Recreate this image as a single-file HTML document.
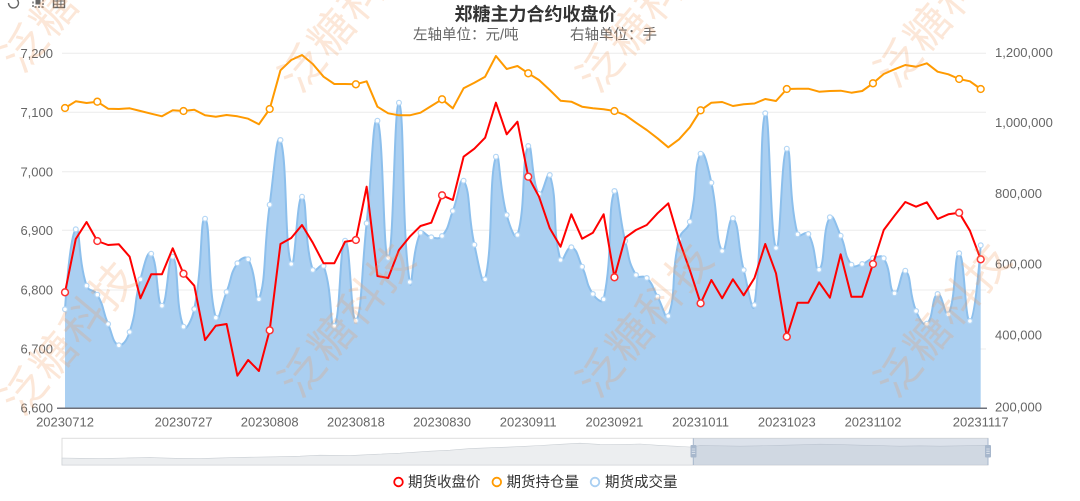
<!DOCTYPE html>
<html><head><meta charset="utf-8">
<style>
html,body{margin:0;padding:0;background:#fff;}
svg{display:block;font-family:"Liberation Sans","Noto Sans CJK SC",sans-serif;}
</style></head>
<body>
<svg id="c" width="1080" height="501" viewBox="0 0 1080 501" xmlns="http://www.w3.org/2000/svg">
<rect x="0" y="0" width="1080" height="501" fill="#fff"/>
<!-- toolbox icons -->
<g fill="none" stroke="#666" stroke-width="1.4">
  <path d="M8.5,3 A5,5 0 1 0 13,-2"/>
  <path d="M33,-2 L33,7 L43,7 L43,-2" stroke-dasharray="2,1.5"/>
  <rect x="35.5" y="0" width="5" height="4.5" fill="#666" stroke="none"/>
  <rect x="53.5" y="-2" width="11" height="9.5"/>
  <path d="M53.5,1 H64.5 M53.5,4.2 H64.5 M57.2,-2 V7.5 M60.9,-2 V7.5" stroke-width="1"/>
</g>
<!-- title -->
<text x="535.5" y="20.5" text-anchor="middle" font-size="18" font-weight="bold" fill="#333">郑糖主力合约收盘价</text>
<text x="413" y="39.5" font-size="14.5" fill="#666">左轴单位：元/吨</text>
<text x="570" y="39.5" font-size="14.5" fill="#666">右轴单位：手</text>
<!-- grid lines -->
<g stroke="#ececec" stroke-width="1">
  <line x1="62" y1="53.3" x2="986" y2="53.3"/>
  <line x1="62" y1="112.3" x2="986" y2="112.3"/>
  <line x1="62" y1="171.8" x2="986" y2="171.8"/>
  <line x1="62" y1="230.3" x2="986" y2="230.3"/>
  <line x1="62" y1="290" x2="986" y2="290"/>
  <line x1="62" y1="349" x2="986" y2="349"/>
</g>
<!-- left axis labels -->
<g font-size="13" fill="#666" text-anchor="end">
  <text x="53" y="57.8">7,200</text>
  <text x="53" y="116.8">7,100</text>
  <text x="53" y="176.3">7,000</text>
  <text x="53" y="234.8">6,900</text>
  <text x="53" y="294.5">6,800</text>
  <text x="53" y="353.5">6,700</text>
  <text x="53" y="412.5">6,600</text>
</g>
<!-- right axis labels -->
<g font-size="13" fill="#666" text-anchor="start">
  <text x="995" y="57.2">1,200,000</text>
  <text x="995" y="127.2">1,000,000</text>
  <text x="995" y="197.8">800,000</text>
  <text x="995" y="268.5">600,000</text>
  <text x="995" y="339.5">400,000</text>
  <text x="995" y="411.5">200,000</text>
</g>
<g id="series"></g>
<!-- x axis -->
<line x1="57" y1="408.3" x2="987" y2="408.3" stroke="#6e7079" stroke-width="1.5"/>
<g id="xlabels" font-size="13" fill="#666" text-anchor="middle">
  <text x="65" y="426.5">20230712</text>
  <text x="183.5" y="426.5">20230727</text>
  <text x="269.7" y="426.5">20230808</text>
  <text x="355.9" y="426.5">20230818</text>
  <text x="442" y="426.5">20230830</text>
  <text x="528.2" y="426.5">20230911</text>
  <text x="614.4" y="426.5">20230921</text>
  <text x="700.6" y="426.5">20231011</text>
  <text x="786.8" y="426.5">20231023</text>
  <text x="873" y="426.5">20231102</text>
  <text x="980.7" y="426.5">20231117</text>
</g>
<!-- dataZoom -->
<g>
  <rect x="62" y="438.3" width="926" height="26.7" fill="#fff" stroke="#dddddd" stroke-width="1"/>
  <path id="shadow" fill="#eceef0" stroke="#c9ced3" stroke-width="0.6"/>
  <rect x="693.3" y="438.3" width="294.7" height="26.7" fill="rgba(167,183,204,0.4)"/>
  <line x1="693.3" y1="438.3" x2="693.3" y2="465" stroke="#a7b7cc" stroke-width="1"/>
  <line x1="988" y1="438.3" x2="988" y2="465" stroke="#a7b7cc" stroke-width="1"/>
  <rect x="690.5" y="445" width="6" height="12.5" fill="#a7b7cc" rx="1"/>
  <rect x="985" y="445" width="6" height="12.5" fill="#a7b7cc" rx="1"/>
  <path d="M691.8,449 h3.4 M691.8,451.2 h3.4 M691.8,453.4 h3.4 M986.3,449 h3.4 M986.3,451.2 h3.4 M986.3,453.4 h3.4" stroke="#e6ebf2" stroke-width="0.8"/>
</g>
<!-- legend -->
<g font-size="14.5" fill="#333">
  <circle cx="398.5" cy="482" r="4.3" fill="#fff" stroke="#ff0000" stroke-width="1.8"/>
  <text x="408" y="487">期货收盘价</text>
  <circle cx="496.8" cy="482" r="4.3" fill="#fff" stroke="#ff9a00" stroke-width="1.8"/>
  <text x="506.5" y="487">期货持仓量</text>
  <circle cx="595" cy="482" r="4.3" fill="#fff" stroke="#a9cff2" stroke-width="1.8"/>
  <text x="605" y="487">期货成交量</text>
</g>
<!-- watermark -->
<g font-size="44" fill="#f39a5a" fill-opacity="0.24" letter-spacing="2" font-family="'Liberation Sans','Noto Sans CJK SC',sans-serif">
  <text transform="translate(22,418) rotate(-50)">泛糖科技</text>
  <text transform="translate(300,400) rotate(-50)">泛糖科技</text>
  <text transform="translate(598,400) rotate(-50)">泛糖科技</text>
  <text transform="translate(896,400) rotate(-50)">泛糖科技</text>
  <text transform="translate(22,75) rotate(-50)">泛糖科技</text>
  <text transform="translate(300,95) rotate(-50)">泛糖科技</text>
  <text transform="translate(598,95) rotate(-50)">泛糖科技</text>
  <text transform="translate(896,90) rotate(-50)">泛糖科技</text>
</g>
</svg>
<script>
(function(){
var NS="http://www.w3.org/2000/svg";
var X0=65, DX=(980.7-65)/85;
var orange=[108,101.3,103,101.7,108.7,109,108.3,111,113.7,116.3,110.3,111,109.7,115.3,116.7,115,116.3,118.7,124.3,109,70.3,60,55,64,76.7,84,84,84.3,81.3,106.7,113.3,115.3,115.3,112.7,106,99.3,108.3,88.3,82.7,76.7,56,69,66,73.3,80,90,100.7,101.7,106.7,108.3,109.3,111,115,122.7,130,138.3,147.3,139.3,127.3,110.3,102.7,102,106,104.3,103.5,99,101,89,88.7,88.7,91.7,91,90.7,92.7,91,83.3,74,69.3,65,66.7,63.3,71.7,74.3,79,81.3,89];
var red=[292.3,239,222,241,245,244.3,256.7,298.3,274.3,274.3,248.3,273.7,285.7,340,325.7,324,375.7,360,371,330.3,244,238,225,242.7,263.3,263.3,241.7,240,186.7,276,278,250,236.7,226,222.7,195.3,200,156.7,148.7,137.7,102.7,134.3,121.7,176.7,196.7,228.3,246.7,214.3,238.7,232.7,214.3,277.3,237.7,230,225,213.3,203.3,240,270,303.3,280,298.3,279.3,295.3,278,244,273.3,336.7,302.7,302.7,282.3,297.7,254.3,296.7,296.7,264,230,215.7,202,206.7,202.3,219,214.3,212.7,230.7,259.3];
var blue=[309.3,229.3,285.7,294.7,324,345.3,332,279.3,253.7,305.7,256.7,326.7,309,218.7,317.7,292,263.3,259.3,299.3,204.7,140,264,196.7,270,266,326,240.7,320.7,223.3,120.7,258,102.7,282,232.7,237.3,236,211,180.7,244.7,279.3,156.7,215,235,146,194,175,260,247.3,266.7,294,299.3,191,241,275,278,296.7,316,239.3,221.7,153.7,182.7,251,218.3,270,305,113.3,248,148.7,234.3,234,269.7,217.3,235.7,264.7,264,258.3,258.3,293.3,270.7,311,323.7,294,314.3,253.3,321,245.3];
function pts(a){return a.map(function(y,i){return [X0+i*DX,y];});}
function f(v){return Math.round(v*100)/100;}
function smoothPath(p,smooth){
  var n=p.length,minX=1e9,minY=1e9,maxX=-1e9,maxY=-1e9;
  p.forEach(function(q){minX=Math.min(minX,q[0]);maxX=Math.max(maxX,q[0]);minY=Math.min(minY,q[1]);maxY=Math.max(maxY,q[1]);});
  function cl(c){return [Math.min(maxX,Math.max(minX,c[0])),Math.min(maxY,Math.max(minY,c[1]))];}
  var cin=[],cout=[];
  for(var i=0;i<n;i++){
    var q=p[i];
    if(i===0||i===n-1){cin.push(q);cout.push(q);continue;}
    var pr=p[i-1],nx=p[i+1];
    var vx=nx[0]-pr[0],vy=nx[1]-pr[1];
    var d0=Math.hypot(q[0]-pr[0],q[1]-pr[1]),d1=Math.hypot(q[0]-nx[0],q[1]-nx[1]);
    var r=d1/(d0+d1);
    cin.push(cl([q[0]-vx*smooth*(1-r),q[1]-vy*smooth*(1-r)]));
    cout.push(cl([q[0]+vx*smooth*r,q[1]+vy*smooth*r]));
  }
  var d="M"+f(p[0][0])+","+f(p[0][1]);
  for(var j=0;j<n-1;j++){
    var a=cout[j],b=cin[j+1],e=p[j+1];
    d+="C"+f(a[0])+","+f(a[1])+" "+f(b[0])+","+f(b[1])+" "+f(e[0])+","+f(e[1]);
  }
  return d;
}
function linePath(p){return "M"+p.map(function(q){return f(q[0])+","+f(q[1]);}).join("L");}
var g=document.getElementById("series");
function el(tag,attrs){var e=document.createElementNS(NS,tag);for(var k in attrs)e.setAttribute(k,attrs[k]);g.appendChild(e);return e;}
var bp=pts(blue);
var sp=smoothPath(bp,0.5);
el("path",{d:sp+"L"+f(bp[bp.length-1][0])+",408.3L"+f(bp[0][0])+",408.3Z",fill:"#aacff1",stroke:"none"});
el("path",{d:sp,fill:"none",stroke:"#8cbfec","stroke-width":"2"});
bp.forEach(function(q){el("circle",{cx:f(q[0]),cy:f(q[1]),r:"2.4",fill:"#fff",stroke:"#b5d7f5","stroke-width":"1.2"});});
var op=pts(orange),rp=pts(red);
el("path",{d:linePath(op),fill:"none",stroke:"#ff9a00","stroke-width":"2","stroke-linejoin":"round"});
el("path",{d:linePath(rp),fill:"none",stroke:"#ff0000","stroke-width":"2","stroke-linejoin":"round"});
var mk=[0,3,11,19,27,35,43,51,59,67,75,83,85];
mk.forEach(function(i){
  el("circle",{cx:f(op[i][0]),cy:f(op[i][1]),r:"3.4",fill:"#fff",stroke:"#ff9a00","stroke-width":"1.5"});
  el("circle",{cx:f(rp[i][0]),cy:f(rp[i][1]),r:"3.4",fill:"#fff",stroke:"#ff3030","stroke-width":"1.5"});
});
// dataZoom shadow
var sh=[[62,458],[80,458.3],[100,458.6],[125,458],[150,457.6],[175,458.3],[200,458.6],[225,457.8],[250,457.2],[275,456.8],[300,456.2],[320,455.2],[350,455.6],[375,454.3],[400,453.2],[430,451.2],[450,450.2],[470,448.6],[495,447.6],[520,446.6],[540,445.5],[560,444.3],[580,443.2],[600,444.4],[620,444.6],[640,444],[660,445.4],[675,446.2],[690,447],[700,445.6],[720,445.8],[740,446.2],[760,445.8],[780,445.3],[800,444.8],[820,444.2],[840,444.6],[860,445.2],[880,445.6],[900,446.2],[920,445.8],[940,446.2],[960,445.8],[988,445.3]];
var sd="M"+sh.map(function(q){return q[0]+","+q[1];}).join("L")+"L988,465L62,465Z";
document.getElementById("shadow").setAttribute("d",sd);
})();
</script>
</body></html>
